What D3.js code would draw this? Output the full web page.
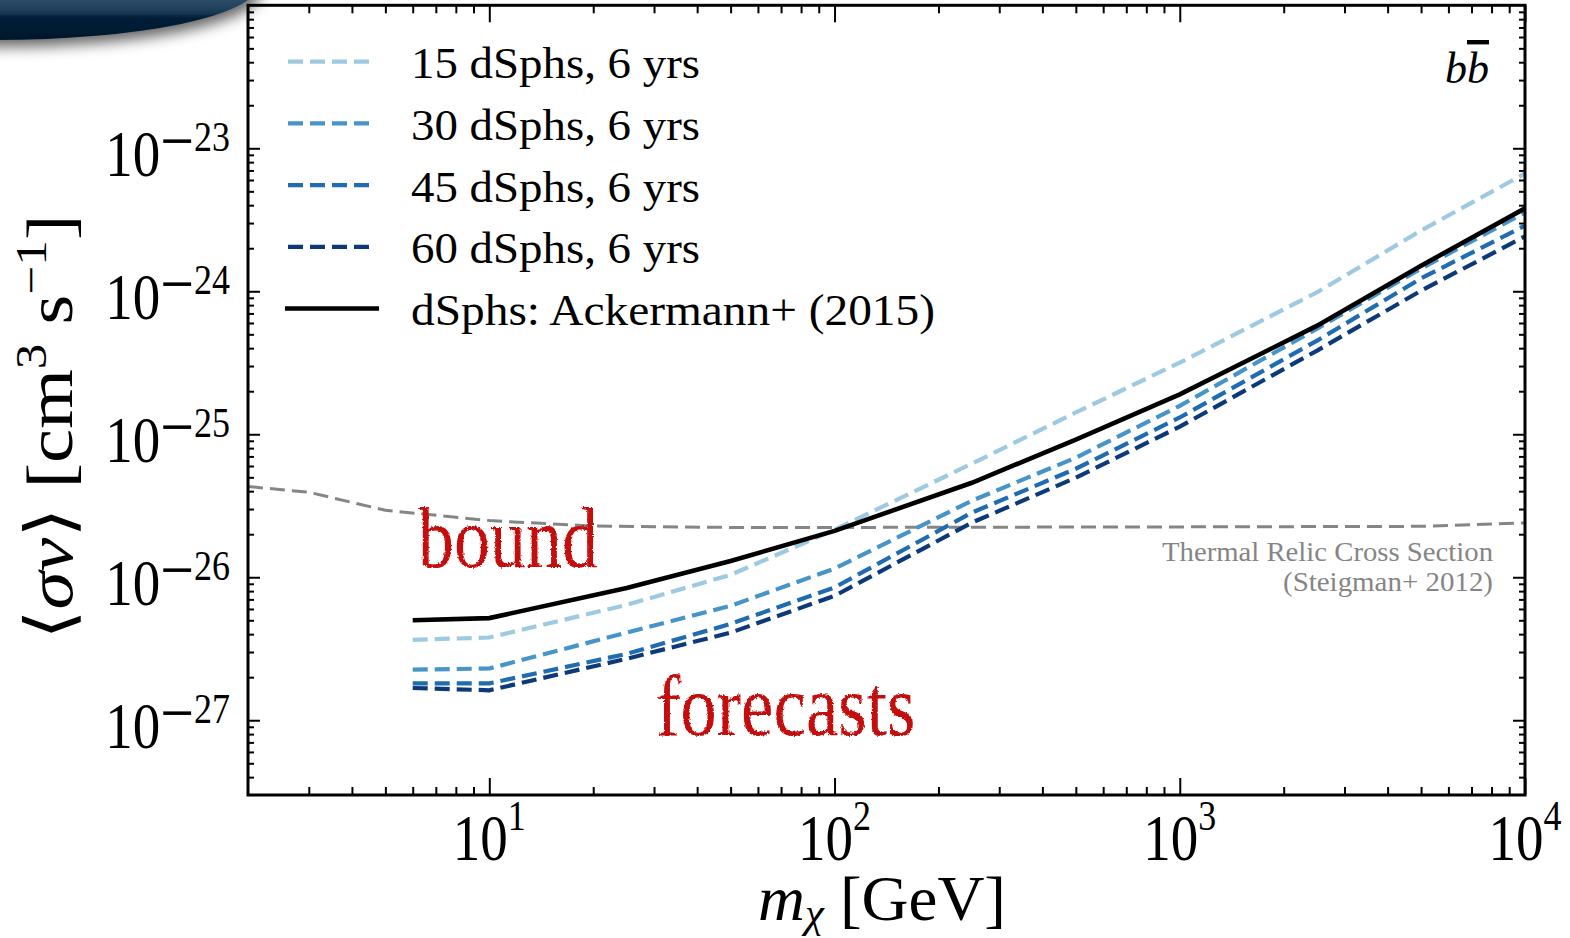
<!DOCTYPE html>
<html>
<head>
<meta charset="utf-8">
<script src="https://cdn.jsdelivr.net/npm/d3@7"></script>
<style>
  html, body { margin: 0; padding: 0; background: #fff; }
  svg { display: block; }
  text { font-family: "Liberation Serif", "DejaVu Serif", serif; fill: #000; }
</style>
</head>
<body>
<svg id="chart" width="1570" height="938"></svg>
<script>
// ---- data -------------------------------------------------------------
// dark-matter mass grid (GeV)
const massGrid = [6, 10, 25, 50, 100, 250, 500, 1000, 2500, 5000, 10000];

// <sigma v> upper limits / forecasts, b-bbar channel (cm^3 s^-1)
const sigv15 = [3.65e-27, 3.79e-27, 6.41e-27, 1.04e-26, 2.15e-26, 6.23e-26, 1.42e-25, 3.17e-25, 9.84e-25, 2.66e-24, 6.67e-24];
const sigv30 = [2.26e-27, 2.30e-27, 4.10e-27, 6.31e-27, 1.15e-26, 3.43e-26, 6.86e-26, 1.58e-25, 5.48e-25, 1.44e-24, 3.56e-24];
const sigv45 = [1.81e-27, 1.81e-27, 2.91e-27, 4.72e-27, 8.49e-27, 2.83e-26, 5.74e-26, 1.31e-25, 4.52e-25, 1.23e-24, 2.88e-24];
const sigv60 = [1.68e-27, 1.62e-27, 2.69e-27, 4.10e-27, 7.41e-27, 2.41e-26, 4.97e-26, 1.13e-25, 3.85e-25, 1.01e-24, 2.42e-24];
const sigvAckermann = [5.00e-27, 5.18e-27, 8.40e-27, 1.30e-26, 2.11e-26, 4.58e-26, 9.18e-26, 1.90e-25, 5.75e-25, 1.51e-24, 3.80e-24];

// thermal relic cross section
const relicMass = [2, 3, 5, 10, 20, 50, 100, 1000, 5000, 10000];
const relicSigv = [4.31e-26, 3.93e-26, 2.94e-26, 2.49e-26, 2.28e-26, 2.23e-26, 2.23e-26, 2.25e-26, 2.27e-26, 2.40e-26];

const seriesLabels = ["15 dSphs, 6 yrs", "30 dSphs, 6 yrs", "45 dSphs, 6 yrs", "60 dSphs, 6 yrs", "dSphs: Ackermann+ (2015)"];
const xTickPowers = [1, 2, 3, 4];
const yTickPowers = [-27, -26, -25, -24, -23];

// ---- layout -----------------------------------------------------------
const plot = { left: 248, right: 1525, top: 5.3, bottom: 795 };
const svg = d3.select("#chart");

const x = d3.scaleLog().domain([2, 1e4]).range([plot.left, plot.right]);
const y = d3.scaleLog().domain([3e-28, 1e-22]).range([plot.bottom, plot.top]);

const defs = svg.append("defs");

// slide header cap in the corner
const capGrad = defs.append("linearGradient").attr("id", "capGrad")
  .attr("gradientUnits", "userSpaceOnUse").attr("x1", 0).attr("y1", 0).attr("x2", 0).attr("y2", 40);
[[0, "#2c4c67"], [0.25, "#1f3e59"], [0.34, "#163450"], [0.42, "#06203a"], [1, "#02172b"]]
  .forEach(([o, c]) => capGrad.append("stop").attr("offset", o).attr("stop-color", c));
const capShadow = defs.append("filter").attr("id", "capShadow")
  .attr("x", "-20%").attr("y", "-20%").attr("width", "140%").attr("height", "160%");
capShadow.append("feDropShadow").attr("dx", 3).attr("dy", 7).attr("stdDeviation", 7)
  .attr("flood-color", "#000").attr("flood-opacity", 0.6);

// ink roughness for the hand-lettered annotations
const rough = defs.append("filter").attr("id", "rough")
  .attr("x", "-5%").attr("y", "-10%").attr("width", "110%").attr("height", "120%");
rough.append("feTurbulence").attr("type", "fractalNoise").attr("baseFrequency", 0.6)
  .attr("numOctaves", 2).attr("seed", 3).attr("result", "noise");
rough.append("feDisplacementMap").attr("in", "SourceGraphic").attr("in2", "noise")
  .attr("scale", 3).attr("xChannelSelector", "R").attr("yChannelSelector", "G");

defs.append("clipPath").attr("id", "plotClip").append("rect")
  .attr("x", plot.left).attr("y", plot.top)
  .attr("width", plot.right - plot.left).attr("height", plot.bottom - plot.top);

svg.append("ellipse")
  .attr("cx", -4).attr("cy", -15).attr("rx", 262).attr("ry", 55)
  .attr("fill", "url(#capGrad)").attr("filter", "url(#capShadow)");

// ---- ticks (inward, all four sides) --------------------------------------
const xMajor = xTickPowers.map(p => Math.pow(10, p));
const yMajor = yTickPowers.map(p => Math.pow(10, p));
const xMinor = [];
[1, 10, 100, 1000].forEach(d => { for (let k = 2; k <= 9; k++) { const v = k * d; if (v > 2 && v < 1e4) xMinor.push(v); } });
const yMinor = [];
[1e-28, 1e-27, 1e-26, 1e-25, 1e-24, 1e-23].forEach(d => { for (let k = 2; k <= 9; k++) { const v = k * d; if (v > 3e-28 * 1.0001 && v < 1e-22) yMinor.push(v); } });

const styleTicks = g => {
  g.select(".domain").remove();
  g.selectAll(".tick text").remove();
  g.selectAll(".tick line").attr("stroke", "#000").attr("stroke-width", 2);
};
const addAxis = (axis, tr) => svg.append("g").attr("transform", tr).call(axis).call(styleTicks);

addAxis(d3.axisBottom(x).tickValues(xMajor).tickSize(-17).tickFormat(""), `translate(0,${plot.bottom})`);
addAxis(d3.axisBottom(x).tickValues(xMinor).tickSize(-8).tickFormat(""), `translate(0,${plot.bottom})`);
addAxis(d3.axisTop(x).tickValues(xMajor).tickSize(-17).tickFormat(""), `translate(0,${plot.top})`);
addAxis(d3.axisTop(x).tickValues(xMinor).tickSize(-8).tickFormat(""), `translate(0,${plot.top})`);
addAxis(d3.axisLeft(y).tickValues(yMajor).tickSize(-12).tickFormat(""), `translate(${plot.left},0)`);
addAxis(d3.axisLeft(y).tickValues(yMinor).tickSize(-6).tickFormat(""), `translate(${plot.left},0)`);
addAxis(d3.axisRight(y).tickValues(yMajor).tickSize(-12).tickFormat(""), `translate(${plot.right},0)`);
addAxis(d3.axisRight(y).tickValues(yMinor).tickSize(-6).tickFormat(""), `translate(${plot.right},0)`);

// ---- curves -------------------------------------------------------------
const line = d3.line().x(d => x(d[0])).y(d => y(d[1]));
const curves = svg.append("g").attr("clip-path", "url(#plotClip)");

curves.append("path")
  .attr("d", line(relicMass.map((m, i) => [m, relicSigv[i]])))
  .attr("fill", "none").attr("stroke", "#858585").attr("stroke-width", 3)
  .attr("stroke-dasharray", "15 7");

const series = [
  { values: sigv15, color: "#9ecae1", dash: "15 7" },
  { values: sigv30, color: "#4694c8", dash: "15 7" },
  { values: sigv45, color: "#1f6cb0", dash: "15 7" },
  { values: sigv60, color: "#0c3a78", dash: "15 7" },
  { values: sigvAckermann, color: "#000", dash: null }
];
series.forEach(s => {
  curves.append("path")
    .attr("d", line(massGrid.map((m, i) => [m, s.values[i]])))
    .attr("fill", "none").attr("stroke", s.color)
    .attr("stroke-width", s.dash ? 4.2 : 4.6)
    .attr("stroke-dasharray", s.dash);
});

// frame
svg.append("rect")
  .attr("x", plot.left).attr("y", plot.top)
  .attr("width", plot.right - plot.left).attr("height", plot.bottom - plot.top)
  .attr("fill", "none").attr("stroke", "#000").attr("stroke-width", 3);

// ---- tick labels ----------------------------------------------------------
yTickPowers.forEach(p => {
  const t = svg.append("text")
    .attr("transform", `translate(230,${y(Math.pow(10, p))}) scale(1,1.2)`)
    .attr("text-anchor", "end");
  t.append("tspan").attr("font-size", 55).attr("dy", 23).text("10");
  t.append("tspan").attr("font-size", 60).attr("dy", -9).text("\u2212");
  t.append("tspan").attr("font-size", 36).attr("dy", -11.5).text(String(-p));
});
xTickPowers.forEach(p => {
  const t = svg.append("text")
    .attr("transform", `translate(${x(Math.pow(10, p))},860) scale(1,1.2)`)
    .attr("text-anchor", "middle");
  t.append("tspan").attr("font-size", 55).text("10");
  t.append("tspan").attr("font-size", 36).attr("dy", -25).text(String(p));
});

// ---- axis titles ----------------------------------------------------------
const xTitle = svg.append("text")
  .attr("x", 882).attr("y", 920).attr("text-anchor", "middle")
  .attr("textLength", 248).attr("lengthAdjust", "spacingAndGlyphs");
xTitle.append("tspan").attr("font-size", 64).attr("font-style", "italic").text("m");
xTitle.append("tspan").attr("font-size", 42).attr("font-style", "italic").attr("dy", 7).text("\u03c7");
xTitle.append("tspan").attr("font-size", 64).attr("dy", -7).text("\u00a0[GeV]");

const yTitle = svg.append("text")
  .attr("transform", "translate(72,427) rotate(-90)")
  .attr("text-anchor", "middle")
  .attr("textLength", 425).attr("lengthAdjust", "spacingAndGlyphs");
yTitle.append("tspan").attr("font-size", 66).text("\u27e8");
yTitle.append("tspan").attr("font-size", 66).attr("font-style", "italic").text("\u03c3v");
yTitle.append("tspan").attr("font-size", 66).text("\u27e9\u00a0[cm");
yTitle.append("tspan").attr("font-size", 44).attr("dy", -26).text("3");
yTitle.append("tspan").attr("font-size", 66).attr("dy", 26).text("\u00a0s");
yTitle.append("tspan").attr("font-size", 44).attr("dy", -26).text("\u22121");
yTitle.append("tspan").attr("font-size", 66).attr("dy", 26).text("]");

// ---- legend --------------------------------------------------------------
const legend = svg.append("g");
series.forEach((s, i) => {
  const cy = 61.7 + i * 61.7;
  legend.append("line")
    .attr("x1", s.dash ? 288 : 285).attr("x2", s.dash ? 371 : 379)
    .attr("y1", cy).attr("y2", cy)
    .attr("stroke", s.color).attr("stroke-width", s.dash ? 4.2 : 4.6)
    .attr("stroke-dasharray", s.dash);
  legend.append("text")
    .attr("x", 411).attr("y", cy + 16.5)
    .attr("font-size", 44)
    .attr("textLength", i < 4 ? 289 : 524).attr("lengthAdjust", "spacingAndGlyphs")
    .text(seriesLabels[i]);
});

// channel tag
const chan = svg.append("text")
  .attr("x", 1445).attr("y", 83).attr("font-size", 44).attr("font-style", "italic");
chan.append("tspan").text("b");
chan.append("tspan").style("text-decoration", "overline").text("b");

// thermal relic annotation
svg.append("text").attr("x", 1493).attr("y", 561).attr("text-anchor", "end")
  .attr("font-size", 27).style("fill", "#858585")
  .attr("textLength", 331).attr("lengthAdjust", "spacingAndGlyphs")
  .text("Thermal Relic Cross Section");
svg.append("text").attr("x", 1493).attr("y", 591).attr("text-anchor", "end")
  .attr("font-size", 27).style("fill", "#858585")
  .attr("textLength", 210).attr("lengthAdjust", "spacingAndGlyphs")
  .text("(Steigman+ 2012)");

// hand-lettered annotations
svg.append("text")
  .attr("transform", "translate(418,567) scale(1,1.2)")
  .attr("font-size", 72).attr("filter", "url(#rough)")
  .style("fill", "#c40d0d").text("bound");
svg.append("text")
  .attr("transform", "translate(656,735) scale(1,1.2)")
  .attr("font-size", 73).attr("filter", "url(#rough)")
  .style("fill", "#c40d0d").text("forecasts");
</script>
</body>
</html>
